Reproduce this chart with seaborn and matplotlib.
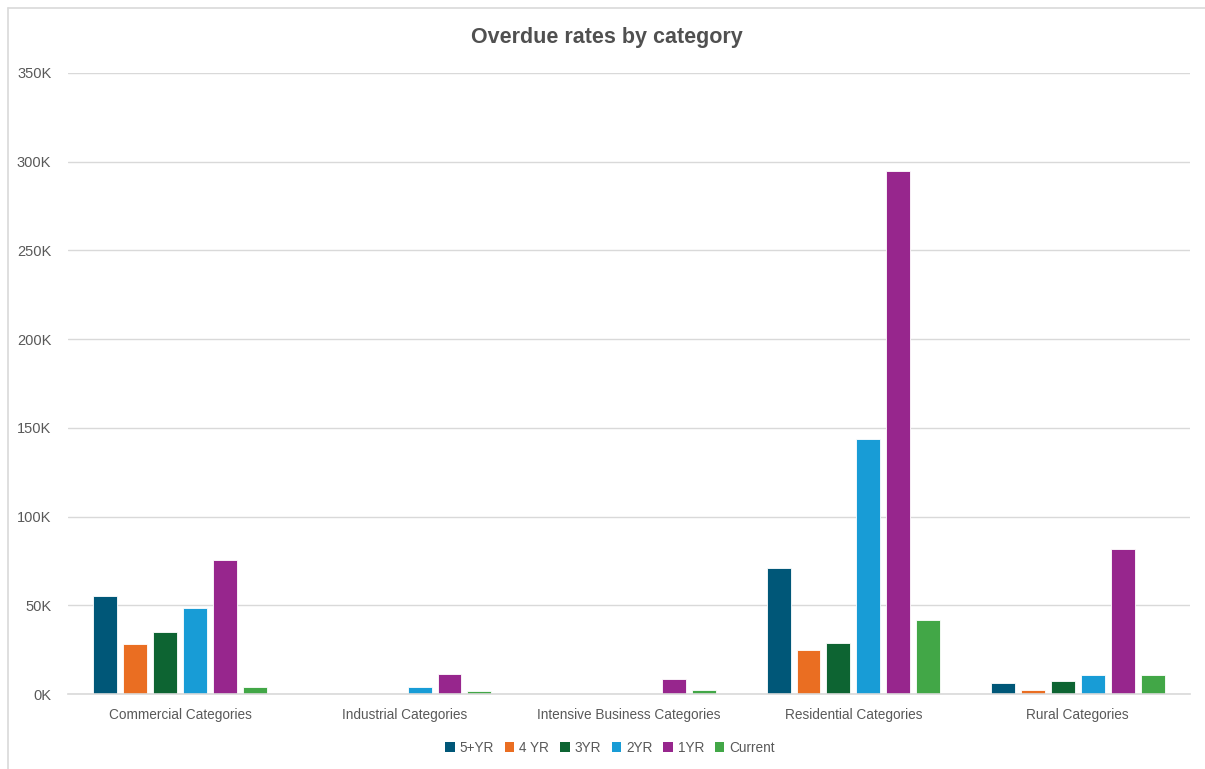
import matplotlib
matplotlib.use("Agg")
import matplotlib.pyplot as plt
import matplotlib.patches as mpatches
from matplotlib.ticker import FuncFormatter, MultipleLocator
import seaborn as sns
import pandas as pd

categories = ["Commercial Categories", "Industrial Categories",
              "Intensive Business Categories", "Residential Categories",
              "Rural Categories"]
series = ["5+YR", "4 YR", "3YR", "2YR", "1YR", "Current"]

yr5_plus = [55200, 0, 0, 71000, 6000]
yr4 = [28200, 0, 0, 24800, 2300]
yr3 = [35000, 0, 0, 28700, 7500]
yr2 = [48500, 4000, 0, 143700, 10500]
yr1 = [75500, 11400, 8300, 294800, 81500]
current = [4000, 1700, 2400, 41700, 10500]

colors = ["#005778", "#EA6E22", "#0D6432", "#189CD6", "#97268D", "#42A747"]

rows = []
for name, vals in zip(series, [yr5_plus, yr4, yr3, yr2, yr1, current]):
    for cat, v in zip(categories, vals):
        rows.append({"category": cat, "series": name, "value": v})
df = pd.DataFrame(rows)

sns.set_theme(style="white")
plt.rcParams["font.family"] = ["Liberation Sans", "DejaVu Sans"]

fig = plt.figure(figsize=(12.05, 7.69), dpi=100)
ax = fig.add_axes([68 / 1205, 1 - 694 / 769, 1122 / 1205, (694 - 73) / 769])

sns.barplot(data=df, x="category", y="value", hue="series", order=categories,
            hue_order=series, palette=dict(zip(series, colors)), width=0.8,
            gap=0.2, saturation=1, ax=ax, edgecolor="white", linewidth=0.6,
            legend=False)

ax.set_ylim(0, 350000)
ax.set_xlim(-0.5, len(categories) - 0.5)
ax.yaxis.set_major_locator(MultipleLocator(50000))
ax.yaxis.set_major_formatter(FuncFormatter(lambda v, p: f"{int(v / 1000)}K"))
ax.grid(axis="y", color="#D9D9D9", linewidth=1)
ax.set_axisbelow(True)
for s in ["top", "right", "left"]:
    ax.spines[s].set_visible(False)
ax.spines["bottom"].set_color("#D9D9D9")
ax.spines["bottom"].set_linewidth(1.2)
ax.set_xlabel("")
ax.set_ylabel("")
ax.tick_params(axis="y", length=0, pad=12, labelsize=10.5, labelcolor="#595959")
ax.tick_params(axis="x", length=0, pad=10, labelsize=9.8, labelcolor="#595959")

fig.text(607 / 1205, 1 - 38 / 769, "Overdue rates by category", ha="center",
         va="center", fontsize=15.5, color="#505050", fontweight="bold")

handles = [mpatches.Patch(facecolor=c, edgecolor="none", label=s)
           for s, c in zip(series, colors)]
fig.legend(handles=handles, loc="center", bbox_to_anchor=(610 / 1205, 1 - 748 / 769),
           ncol=6, frameon=False, fontsize=9.8, labelcolor="#595959",
           handlelength=0.7, handleheight=0.7, handletextpad=0.35,
           columnspacing=0.8)

# thin frame around the chart area
fig.add_artist(plt.Line2D([8 / 1205, 8 / 1205], [0, 1 - 8 / 769],
                          color="#D9D9D9", linewidth=1.2, transform=fig.transFigure))
fig.add_artist(plt.Line2D([8 / 1205, 1], [1 - 8 / 769, 1 - 8 / 769],
                          color="#D9D9D9", linewidth=1.2, transform=fig.transFigure))

fig.savefig("out.png", dpi=100, facecolor="white")
